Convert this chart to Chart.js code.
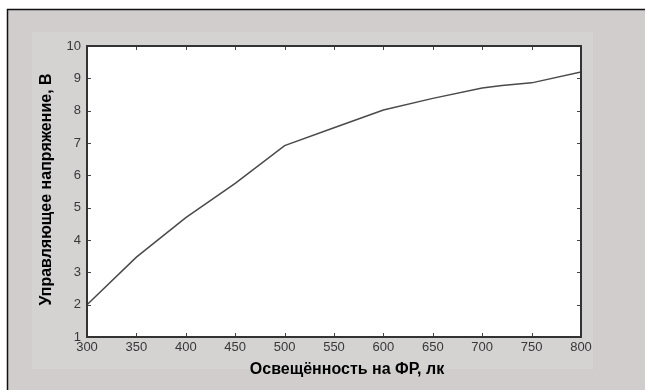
<!DOCTYPE html>
<html>
<head>
<meta charset="utf-8">
<script src="https://cdn.jsdelivr.net/npm/chart.js@4/dist/chart.umd.min.js"></script>
<style>
  html, body { margin: 0; padding: 0; background: #fff; }
  #wrap { width: 645px; height: 390px; }
</style>
</head>
<body>
<div id="wrap"><canvas id="chart" width="645" height="390"></canvas></div>
<script>
// Освещённость (лк) и управляющее напряжение (В)
const lux = [300, 350, 400, 450, 500, 550, 600, 650, 700, 720, 750, 800];
const voltage = [2.0, 3.47, 4.69, 5.75, 6.92, 7.47, 8.02, 8.38, 8.7, 8.78, 8.86, 9.2];
const xTicks = [300, 350, 400, 450, 500, 550, 600, 650, 700, 750, 800];
const yTicks = [1, 2, 3, 4, 5, 6, 7, 8, 9, 10];

const xTitle = 'Освещённость на ФР, лк';
const yTitle = 'Управляющее напряжение, В';

// фон окна, рамка осей и засечки внутрь (как в MATLAB)
const figurePlugin = {
  id: 'figure',
  beforeDraw(chart) {
    const c = chart.ctx;
    const a = chart.chartArea;
    c.save();
    c.fillStyle = '#ffffff';
    c.fillRect(0, 0, chart.width, chart.height);
    c.fillStyle = '#d1cdcd';
    c.fillRect(7, 9, chart.width - 7, chart.height - 9);
    c.strokeStyle = '#111';
    c.lineWidth = 1.5;
    c.beginPath();
    c.moveTo(7.5, chart.height);
    c.lineTo(7.5, 9.5);
    c.lineTo(chart.width, 9.5);
    c.stroke();
    c.fillStyle = '#d5d2d2';
    c.fillRect(32, 32, 561, 337);
    c.fillStyle = '#ffffff';
    c.fillRect(a.left, a.top, a.right - a.left, a.bottom - a.top);
    c.restore();
  },
  afterDatasetsDraw(chart) {
    const c = chart.ctx;
    const a = chart.chartArea;
    const xs = chart.scales.x;
    const ys = chart.scales.y;
    c.save();
    c.strokeStyle = '#444';
    c.lineWidth = 1;
    c.beginPath();
    xs.ticks.forEach(t => {
      const px = Math.round(xs.getPixelForValue(t.value)) + 0.5;
      c.moveTo(px, a.bottom); c.lineTo(px, a.bottom - 4);
      c.moveTo(px, a.top); c.lineTo(px, a.top + 4);
    });
    ys.ticks.forEach(t => {
      const py = Math.round(ys.getPixelForValue(t.value)) + 0.5;
      c.moveTo(a.left, py); c.lineTo(a.left + 4, py);
      c.moveTo(a.right, py); c.lineTo(a.right - 4, py);
    });
    c.stroke();
    c.strokeStyle = '#333';
    c.lineWidth = 2;
    c.strokeRect(a.left, a.top, a.right - a.left, a.bottom - a.top);

    // подписи осей
    c.fillStyle = '#000';
    c.font = 'bold 16px "Liberation Sans", Arial, sans-serif';
    c.textAlign = 'center';
    c.textBaseline = 'middle';
    c.fillText(xTitle, 347, 370);
    c.translate(47, (a.top + a.bottom) / 2 - 2);
    c.rotate(-Math.PI / 2);
    c.fillText(yTitle, 0, 0);
    c.restore();
  }
};

const ctx = document.getElementById('chart').getContext('2d');
new Chart(ctx, {
  type: 'line',
  data: {
    labels: lux,
    datasets: [{
      data: lux.map((x, i) => ({ x: x, y: voltage[i] })),
      borderColor: '#4a4a4a',
      borderWidth: 1.5,
      pointRadius: 0,
      tension: 0,
      fill: false
    }]
  },
  options: {
    responsive: false,
    animation: false,
    layout: { padding: { left: 47, right: 64, top: 46, bottom: 33 } },
    plugins: {
      legend: { display: false },
      tooltip: { enabled: false }
    },
    scales: {
      x: {
        type: 'linear',
        min: 300,
        max: 800,
        afterBuildTicks: s => { s.ticks = xTicks.map(v => ({ value: v })); },
        afterFit: s => { s.height = 20; },
        grid: { display: false, drawTicks: false },
        border: { display: false },
        ticks: {
          padding: 3,
          color: '#383838',
          font: { family: '"Liberation Sans", Arial, sans-serif', size: 13 },
          maxRotation: 0,
          autoSkip: false
        }
      },
      y: {
        type: 'linear',
        min: 1,
        max: 10,
        afterBuildTicks: s => { s.ticks = yTicks.map(v => ({ value: v })); },
        afterFit: s => { s.width = 40; },
        grid: { display: false, drawTicks: false },
        border: { display: false },
        ticks: {
          padding: 6,
          color: '#383838',
          font: { family: '"Liberation Sans", Arial, sans-serif', size: 13 },
          autoSkip: false
        }
      }
    }
  },
  plugins: [figurePlugin]
});
</script>
</body>
</html>
